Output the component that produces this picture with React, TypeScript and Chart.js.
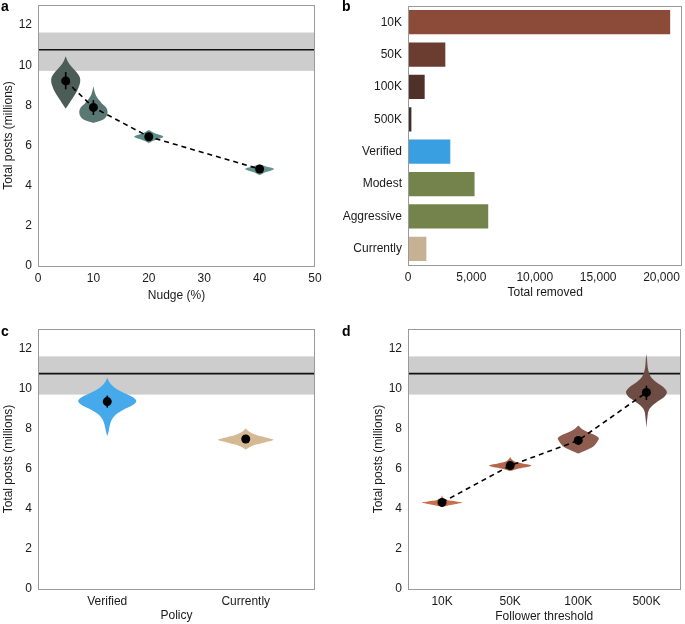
import React, { useEffect, useRef } from 'react';
import { Chart, registerables } from 'chart.js';
Chart.register(...registerables);

const FONT = '"Liberation Sans", Arial, Helvetica, sans-serif';
const TEXT = '#1a1a1a';

// Reference band (observed posts)
const BAND_LOW = 9.72;
const BAND_HIGH = 11.63;
const BAND_LINE = 10.77;

const postTicks = [0, 2, 4, 6, 8, 10, 12];

// Panel a
const nudgePct = [5, 10, 20, 40];
const nudgeMean = [9.22, 7.9, 6.44, 4.83];
const nudgeErrLow = [8.8, 7.52, 6.34, 4.73];
const nudgeErrHigh = [9.66, 8.26, 6.54, 4.93];
const nudgeColors = ['#4c5d58', '#5a7873', '#5e8b88', '#65948f'];
const nudgeHalfWidth = [2.62, 2.55, 2.62, 2.62];
const nudgeLevels = [
  [7.85, 8.1, 8.4, 8.7, 9.0, 9.2, 9.4, 9.6, 9.85, 10.1, 10.3, 10.45],
  [7.13, 7.3, 7.5, 7.7, 7.9, 8.1, 8.35, 8.6, 8.95],
  [6.12, 6.2, 6.28, 6.36, 6.44, 6.52, 6.6, 6.7, 6.77],
  [4.53, 4.6, 4.68, 4.76, 4.83, 4.9, 4.97, 5.03, 5.06],
];
const nudgeWidths = [
  [0, 0.24, 0.52, 0.77, 0.94, 1, 0.97, 0.8, 0.5, 0.22, 0.08, 0],
  [0, 0.7, 0.95, 1, 0.9, 0.6, 0.3, 0.12, 0],
  [0, 0.2, 0.45, 0.8, 1, 0.8, 0.45, 0.18, 0],
  [0, 0.2, 0.45, 0.8, 1, 0.75, 0.4, 0.12, 0],
];
const nudgeTicks = [0, 10, 20, 30, 40, 50];

// Panel b
const removedLabels = ['10K', '50K', '100K', '500K', 'Verified', 'Modest', 'Aggressive', 'Currently'];
const removedValues = [20685, 2945, 1315, 268, 3338, 5252, 6330, 1449];
const removedColors = ['#8b4b38', '#6b3d30', '#4f3129', '#3d2f2b', '#3a9fe0', '#74834b', '#74834b', '#c7b195'];
const removedTicks = [0, 5000, 10000, 15000, 20000];

// Panel c
const policyLabels = ['Verified', 'Currently'];
const policyMean = [9.37, 7.5];
const policyErrLow = [9.07, 7.38];
const policyErrHigh = [9.67, 7.62];
const policyColors = ['#45a9ec', '#d5b994'];
const policyHalfWidth = [0.21, 0.2];
const policyLevels = [
  [7.64, 7.9, 8.2, 8.5, 8.75, 9.0, 9.2, 9.4, 9.6, 9.8, 10.0, 10.2, 10.4, 10.58],
  [6.97, 7.1, 7.22, 7.34, 7.46, 7.58, 7.7, 7.85, 8.04],
];
const policyWidths = [
  [0, 0.05, 0.09, 0.17, 0.32, 0.6, 0.88, 1, 0.87, 0.58, 0.32, 0.15, 0.05, 0],
  [0, 0.15, 0.38, 0.72, 1, 0.72, 0.38, 0.14, 0],
];

// Panel d
const thresholdLabels = ['10K', '50K', '100K', '500K'];
const thresholdMean = [4.33, 6.17, 7.43, 9.83];
const thresholdErrLow = [4.2, 6.03, 7.25, 9.45];
const thresholdErrHigh = [4.46, 6.31, 7.63, 10.16];
const thresholdColors = ['#c96f4f', '#b4664c', '#8f5d4f', '#6d4c44'];
const thresholdHalfWidth = [0.3, 0.3, 0.3, 0.3];
const thresholdLevels = [
  [4.11, 4.18, 4.25, 4.32, 4.38, 4.45, 4.55, 4.69],
  [5.9, 5.98, 6.06, 6.13, 6.2, 6.28, 6.36, 6.48, 6.6],
  [6.77, 6.95, 7.1, 7.25, 7.4, 7.55, 7.7, 7.85, 8.0, 8.17],
  [8.06, 8.5, 8.9, 9.15, 9.4, 9.6, 9.85, 10.1, 10.35, 10.6, 10.9, 11.2, 11.5, 11.74],
];
const thresholdWidths = [
  [0, 0.3, 0.7, 1, 0.7, 0.25, 0.06, 0],
  [0, 0.25, 0.6, 0.95, 1, 0.6, 0.25, 0.08, 0],
  [0, 0.4, 0.7, 0.85, 0.95, 1, 0.8, 0.45, 0.18, 0],
  [0, 0.04, 0.1, 0.27, 0.58, 0.87, 1, 0.82, 0.47, 0.22, 0.1, 0.05, 0.03, 0],
];

type Violin = { pos: number; half: number; levels: number[]; widths: number[]; color: string };
type ErrBar = { pos: number; lo: number; hi: number };

function splineThrough(ctx: CanvasRenderingContext2D, pts: [number, number][], move: boolean) {
  if (move) ctx.moveTo(pts[0][0], pts[0][1]);
  else ctx.lineTo(pts[0][0], pts[0][1]);
  const n = pts.length;
  for (let i = 0; i < n - 1; i++) {
    const p0 = pts[Math.max(i - 1, 0)];
    const p1 = pts[i];
    const p2 = pts[i + 1];
    const p3 = pts[Math.min(i + 2, n - 1)];
    const c1x = p1[0] + (p2[0] - p0[0]) / 6;
    const c1y = p1[1] + (p2[1] - p0[1]) / 6;
    const c2x = p2[0] - (p3[0] - p1[0]) / 6;
    const c2y = p2[1] - (p3[1] - p1[1]) / 6;
    ctx.bezierCurveTo(c1x, c1y, c2x, c2y, p2[0], p2[1]);
  }
}

const decor = {
  id: 'decor',
  beforeDatasetsDraw(chart: any, _a: any, opts: any) {
    if (!opts || opts.skip) return;
    const { ctx, chartArea: a, scales } = chart;
    const x = scales.x, y = scales.y;
    ctx.save();
    ctx.beginPath();
    ctx.rect(a.left, a.top, a.right - a.left, a.bottom - a.top);
    ctx.clip();
    if (opts.band) {
      const yt = y.getPixelForValue(BAND_HIGH);
      const yb = y.getPixelForValue(BAND_LOW);
      ctx.fillStyle = '#cdcdcd';
      ctx.fillRect(a.left, yt, a.right - a.left, yb - yt);
      const yl = y.getPixelForValue(BAND_LINE);
      ctx.strokeStyle = '#111';
      ctx.lineWidth = 1.6;
      ctx.beginPath();
      ctx.moveTo(a.left, yl);
      ctx.lineTo(a.right, yl);
      ctx.stroke();
    }
    (opts.violins || []).forEach((v: Violin) => {
      const right: [number, number][] = v.levels.map((lv, i) => [x.getPixelForValue(v.pos + v.half * v.widths[i]), y.getPixelForValue(lv)]);
      const left: [number, number][] = v.levels.map((lv, i) => [x.getPixelForValue(v.pos - v.half * v.widths[i]), y.getPixelForValue(lv)]).reverse();
      ctx.fillStyle = v.color;
      ctx.beginPath();
      splineThrough(ctx, right, true);
      splineThrough(ctx, left, false);
      ctx.closePath();
      ctx.fill();
    });
    ctx.strokeStyle = '#000';
    ctx.lineWidth = 1.6;
    (opts.errors || []).forEach((e: ErrBar) => {
      const px = x.getPixelForValue(e.pos);
      ctx.beginPath();
      ctx.moveTo(px, y.getPixelForValue(e.lo));
      ctx.lineTo(px, y.getPixelForValue(e.hi));
      ctx.stroke();
    });
    ctx.restore();
  },
  afterDraw(chart: any, _a: any, opts: any) {
    if (!opts) return;
    const { ctx, chartArea: a } = chart;
    ctx.save();
    ctx.strokeStyle = '#9a9a9a';
    ctx.lineWidth = 1;
    ctx.strokeRect(Math.round(a.left) + 0.5, Math.round(a.top) + 0.5, Math.round(a.right - a.left) - 1, Math.round(a.bottom - a.top));
    if (opts.label) {
      ctx.fillStyle = '#000';
      ctx.font = 'bold 14px ' + FONT;
      ctx.textBaseline = 'alphabetic';
      ctx.fillText(opts.label.text, opts.label.x, opts.label.y);
    }
    ctx.restore();
  },
};

const tickFont = { family: FONT, size: 12 };

function postsAxis() {
  return {
    type: 'linear',
    min: 0,
    max: 13,
    afterBuildTicks: (s: any) => { s.ticks = postTicks.map((v) => ({ value: v })); },
    afterFit: (s: any) => { s.width = 38; s.paddingTop = 0; s.paddingBottom = 0; },
    grid: { display: false, drawTicks: false },
    border: { display: false },
    ticks: { color: TEXT, font: tickFont, padding: 6 },
    title: { display: true, text: 'Total posts (millions)', color: TEXT, font: tickFont, padding: { top: 1, bottom: 0 } },
  };
}

function bottomAxis(base: any, title: string, titlePad: number) {
  return {
    ...base,
    afterFit: (s: any) => { s.height = base.h; },
    grid: { display: false, drawTicks: false },
    border: { display: false },
    ticks: { color: TEXT, font: tickFont, padding: 5, maxRotation: 0, autoSkip: false, ...(base.ticks || {}) },
    title: { display: true, text: title, color: TEXT, font: tickFont, padding: { top: 0, bottom: titlePad } },
  };
}

const common = {
  responsive: false,
  animation: false,
  devicePixelRatio: 1,
  events: [],
};

function configA() {
  return {
    type: 'line',
    data: {
      datasets: [{
        data: nudgePct.map((p, i) => ({ x: p, y: nudgeMean[i] })),
        borderColor: '#000',
        borderWidth: 1.6,
        borderDash: [5, 4],
        pointRadius: 4.5,
        pointBackgroundColor: '#000',
        pointBorderWidth: 0,
      }],
    },
    options: {
      ...common,
      layout: { padding: { left: 0, top: 5, right: 370, bottom: 318 } },
      scales: {
        x: bottomAxis({ type: 'linear', min: 0, max: 50, h: 40, afterBuildTicks: (s: any) => { s.ticks = nudgeTicks.map((v) => ({ value: v })); } }, 'Nudge (%)', 2.8),
        y: postsAxis(),
      },
      plugins: {
        legend: { display: false },
        tooltip: { enabled: false },
        decor: {
          band: true,
          violins: nudgePct.map((p, i) => ({ pos: p, half: nudgeHalfWidth[i], levels: nudgeLevels[i], widths: nudgeWidths[i], color: nudgeColors[i] })),
          errors: nudgePct.map((p, i) => ({ pos: p, lo: nudgeErrLow[i], hi: nudgeErrHigh[i] })),
          label: { text: 'a', x: 1, y: 11 },
        },
      },
    },
    plugins: [decor],
  };
}

function configB() {
  return {
    type: 'bar',
    data: {
      labels: removedLabels,
      datasets: [{
        data: removedValues,
        backgroundColor: removedColors,
        categoryPercentage: 1,
        barPercentage: 0.75,
      }],
    },
    options: {
      ...common,
      indexAxis: 'y',
      layout: { padding: { left: 340, top: 6, right: 2, bottom: 319 } },
      scales: {
        x: bottomAxis({
          type: 'linear', min: 0, max: 21650, h: 40,
          afterBuildTicks: (s: any) => { s.ticks = removedTicks.map((v) => ({ value: v })); },
          ticks: { callback: (v: number) => v.toLocaleString('en-US') },
        }, 'Total removed', 4.8),
        y: {
          type: 'category',
          afterFit: (s: any) => { s.width = 68; s.paddingTop = 0; s.paddingBottom = 0; },
          grid: { display: false, drawTicks: false },
          border: { display: false },
          ticks: { color: TEXT, font: tickFont, padding: 6 },
        },
      },
      plugins: {
        legend: { display: false },
        tooltip: { enabled: false },
        decor: { skip: true, label: { text: 'b', x: 342, y: 11 } },
      },
    },
    plugins: [decor],
  };
}

function configC() {
  return {
    type: 'line',
    data: {
      labels: policyLabels,
      datasets: [{
        data: policyMean,
        showLine: false,
        pointRadius: 4.5,
        pointBackgroundColor: '#000',
        pointBorderWidth: 0,
      }],
    },
    options: {
      ...common,
      layout: { padding: { left: 0, top: 329, right: 370, bottom: 0 } },
      scales: {
        x: bottomAxis({ type: 'category', offset: true, h: 35 }, 'Policy', 0.8),
        y: postsAxis(),
      },
      plugins: {
        legend: { display: false },
        tooltip: { enabled: false },
        decor: {
          band: true,
          violins: policyLabels.map((_, i) => ({ pos: i, half: policyHalfWidth[i], levels: policyLevels[i], widths: policyWidths[i], color: policyColors[i] })),
          errors: policyLabels.map((_, i) => ({ pos: i, lo: policyErrLow[i], hi: policyErrHigh[i] })),
          label: { text: 'c', x: 1, y: 336 },
        },
      },
    },
    plugins: [decor],
  };
}

function configD() {
  return {
    type: 'line',
    data: {
      labels: thresholdLabels,
      datasets: [{
        data: thresholdMean,
        borderColor: '#000',
        borderWidth: 1.6,
        borderDash: [5, 4],
        pointRadius: 4.5,
        pointBackgroundColor: '#000',
        pointBorderWidth: 0,
      }],
    },
    options: {
      ...common,
      layout: { padding: { left: 370, top: 329, right: 1, bottom: 0 } },
      scales: {
        x: bottomAxis({ type: 'category', offset: true, h: 35 }, 'Follower threshold', 0.2),
        y: postsAxis(),
      },
      plugins: {
        legend: { display: false },
        tooltip: { enabled: false },
        decor: {
          band: true,
          violins: thresholdLabels.map((_, i) => ({ pos: i, half: thresholdHalfWidth[i], levels: thresholdLevels[i], widths: thresholdWidths[i], color: thresholdColors[i] })),
          errors: thresholdLabels.map((_, i) => ({ pos: i, lo: thresholdErrLow[i], hi: thresholdErrHigh[i] })),
          label: { text: 'd', x: 342, y: 336 },
        },
      },
    },
    plugins: [decor],
  };
}

function Panel({ make }: { make: () => any }) {
  const ref = useRef<HTMLCanvasElement>(null);
  useEffect(() => {
    const chart = new Chart(ref.current as HTMLCanvasElement, make());
    return () => chart.destroy();
  }, []);
  return (
    <canvas
      ref={ref}
      width={685}
      height={624}
      style={{ position: 'absolute', left: 0, top: 0, width: 685, height: 624 }}
    />
  );
}

export default function App() {
  return (
    <div style={{ position: 'absolute', left: 0, top: 0, width: 685, height: 624, background: '#fff', overflow: 'hidden' }}>
      <Panel make={configA} />
      <Panel make={configB} />
      <Panel make={configC} />
      <Panel make={configD} />
    </div>
  );
}
